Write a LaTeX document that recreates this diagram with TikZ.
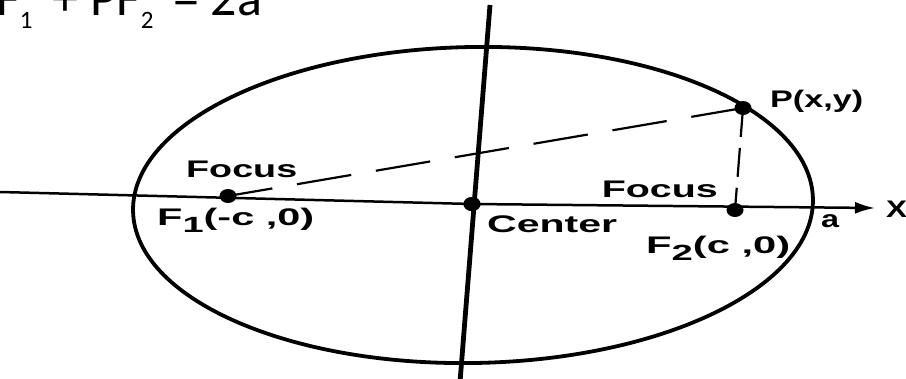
\documentclass[tikz,border=0pt]{standalone}
\usepackage{fontspec}
\setmainfont{Liberation Sans}
\newfontfamily\calib{Carlito}
\usetikzlibrary{arrows.meta,shapes.geometric}
\tikzset{
  dot/.style={ellipse,fill=black,inner sep=0pt,minimum width=17pt,minimum height=14pt},
  lbl/.style={inner sep=0pt,font=\bfseries\fontsize{24}{24}\selectfont},
  axis/.style={line width=2.5pt},
}
\newcommand{\lsub}[1]{\raisebox{-7pt}{\fontsize{22}{22}\selectfont #1}}
\newcommand{\fitw}[2]{\resizebox{#1}{\height}{#2}}
\begin{document}
\begin{tikzpicture}[x=1pt,y=-1pt]
\useasboundingbox (0,0) rectangle (906,378);
\clip (0,0) rectangle (906,378);
% formula (cut off at top)
\node[inner sep=0pt,anchor=base west,font=\calib\fontsize{52}{52}\selectfont] (eq) at (-31,15)
  {PF\raisebox{-13pt}{\fontsize{25}{25}\selectfont 1}\kern8pt{} + PF\raisebox{-13pt}{\fontsize{25}{25}\selectfont 2}\kern8pt{} = 2a};
% ellipse
\node[draw,line width=3.8pt,ellipse,minimum width=680pt,minimum height=316pt,rotate=1.0,inner sep=0pt] (ell) at (473,205) {};
% points
\node[dot] (F1) at (228,196) {};
\node[dot] (C) at (472,204) {};
\node[dot] (F2) at (735,210) {};
\node[dot] (P) at (743,108) {};
% axes
\coordinate (xl) at (0,192);
\coordinate (xr) at (875,208);
\coordinate (yt) at (490,5);
\coordinate (yb) at (460,382);
\draw[axis,-{Latex[length=20pt,width=12pt]}] (xl) -- (C.center) -- (xr);
\draw[line width=4.8pt] (yt) -- (yb);
\node[dot] at (C) {};
% dashed lines
\draw[line width=2.2pt,dash pattern=on 55pt off 25pt,dash phase=10pt] (F1.center) -- (P.center);
\draw[line width=2.2pt,dash pattern=on 29pt off 11pt] (P.center) -- (F2.center);
% labels
\node[lbl,anchor=base west] (lf1) at (186,177) {\fitw{111pt}{Focus}};
\node[lbl,anchor=base west] (lF1) at (157,225) {\fitw{157pt}{F\lsub{1}(-c ,0)}};
\node[lbl,anchor=base west] (lc) at (487,232) {\fitw{130pt}{Center}};
\node[lbl,anchor=base east] (lf2) at (718,197) {\fitw{116pt}{Focus}};
\node[lbl,anchor=base west] (lF2) at (646,253) {\fitw{144pt}{F\lsub{2}(c ,0)}};
\node[lbl,anchor=base west] (lP) at (770,107) {\fitw{93pt}{P(x,y)}};
\node[lbl,anchor=base west] (la) at (821,227) {\fitw{18pt}{a}};
\node[lbl,anchor=base west] (lX) at (886,217) {\fitw{21pt}{X}};
\end{tikzpicture}
\end{document}
